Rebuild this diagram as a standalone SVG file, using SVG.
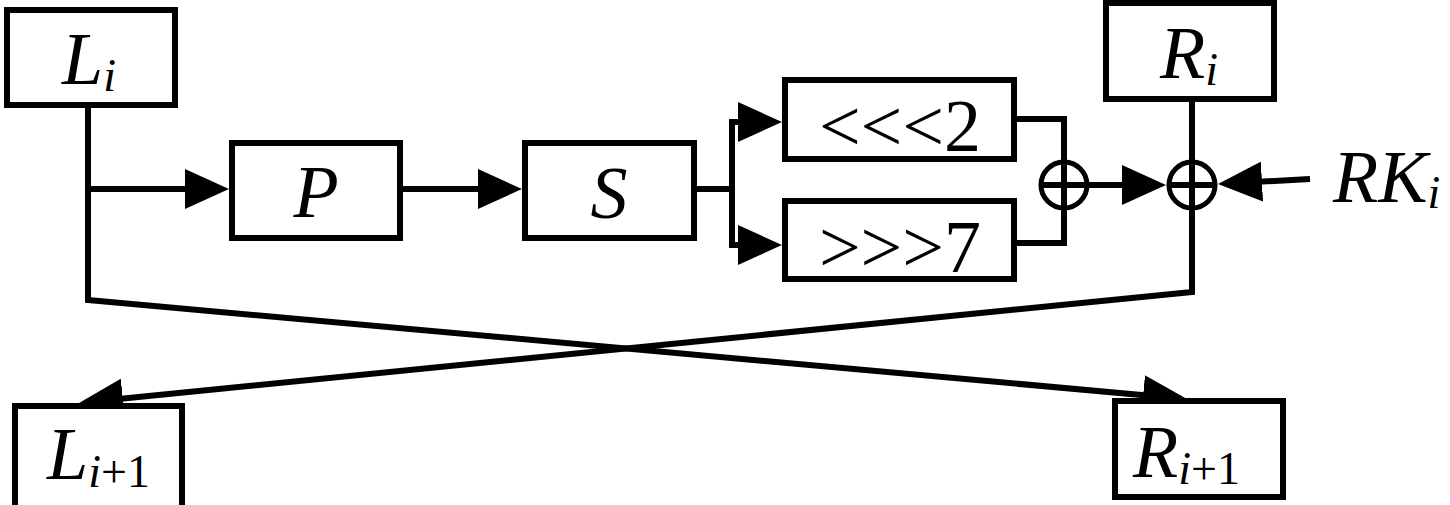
<svg xmlns="http://www.w3.org/2000/svg" width="1450" height="505" viewBox="0 0 1450 505">
<style>
.box{fill:#fff;stroke:#000;stroke-width:6}
.ln{fill:none;stroke:#000;stroke-width:6}
.xor{fill:none;stroke:#000;stroke-width:5}
text{font-family:'Liberation Serif','Times New Roman','DejaVu Serif',serif;font-size:74px;fill:#000}
.t{font-style:italic}
.sub{font-size:46px;font-style:italic}
.up{font-style:normal}
</style>
<defs>
<marker id="arr" markerUnits="userSpaceOnUse" markerWidth="44" markerHeight="40" refX="37" refY="20" orient="auto" viewBox="0 0 44 40">
<path d="M0,0 L44,20 L0,40 z" fill="#000"/>
</marker>
</defs>
<g id="connectors">
<path class="ln" d="M88,105 V300 L1180,398.4" marker-end="url(#arr)"/>
<path class="ln" d="M1192,99 V292 L86,402.3" marker-end="url(#arr)"/>
<path class="ln" d="M88,189 H222" marker-end="url(#arr)"/>
<path class="ln" d="M400,189 H515" marker-end="url(#arr)"/>
<path class="ln" d="M694,189 H732"/>
<path class="ln" d="M732,189 V122 H775" marker-end="url(#arr)"/>
<path class="ln" d="M732,189 V245 H775" marker-end="url(#arr)"/>
<path class="ln" d="M1014,119 H1064 V243 H1014"/>
<path class="ln" d="M1041,185 H1159" marker-end="url(#arr)"/>
<path class="ln" d="M1169,185 H1215"/>
<path class="ln" d="M1310,179 L1225,183.6" marker-end="url(#arr)"/>
</g>
<g id="Li">
<rect class="box" x="7" y="10" width="168" height="95"/>
<text class="t" x="62" y="84" font-family="Liberation Serif">L<tspan class="sub" dy="7">i</tspan></text>
</g>
<g id="Ri">
<rect class="box" x="1106" y="3" width="168" height="96"/>
<text class="t" x="1160" y="78">R<tspan class="sub" dy="7">i</tspan></text>
</g>
<g id="P">
<rect class="box" x="232" y="143" width="168" height="95"/>
<text class="t" x="316" y="217" text-anchor="middle">P</text>
</g>
<g id="S">
<rect class="box" x="525" y="143" width="169" height="95"/>
<text class="t" x="609" y="218" text-anchor="middle">S</text>
</g>
<g id="rot2">
<rect class="box" x="785" y="80" width="229" height="79"/>
<text x="900" y="151" text-anchor="middle">&lt;&lt;&lt;2</text>
</g>
<g id="rot7">
<rect class="box" x="785" y="201" width="229" height="78"/>
<text x="900" y="272" text-anchor="middle">&gt;&gt;&gt;7</text>
</g>
<g id="xor1">
<circle class="xor" cx="1064" cy="185" r="23"/>
</g>
<g id="xor2">
<circle class="xor" cx="1192" cy="185" r="23"/>
</g>
<g id="RKi">
<text class="t" x="1333" y="202">RK<tspan class="sub" dy="6">i</tspan></text>
</g>
<g id="Li1">
<rect class="box" x="15" y="406" width="167" height="102"/>
<text class="t" x="47" y="479">L<tspan class="sub" dy="8">i</tspan><tspan class="sub up">+1</tspan></text>
</g>
<g id="Ri1">
<rect class="box" x="1115" y="401" width="168" height="96"/>
<text class="t" x="1133" y="477">R<tspan class="sub" dy="7">i</tspan><tspan class="sub up">+1</tspan></text>
</g>
</svg>
